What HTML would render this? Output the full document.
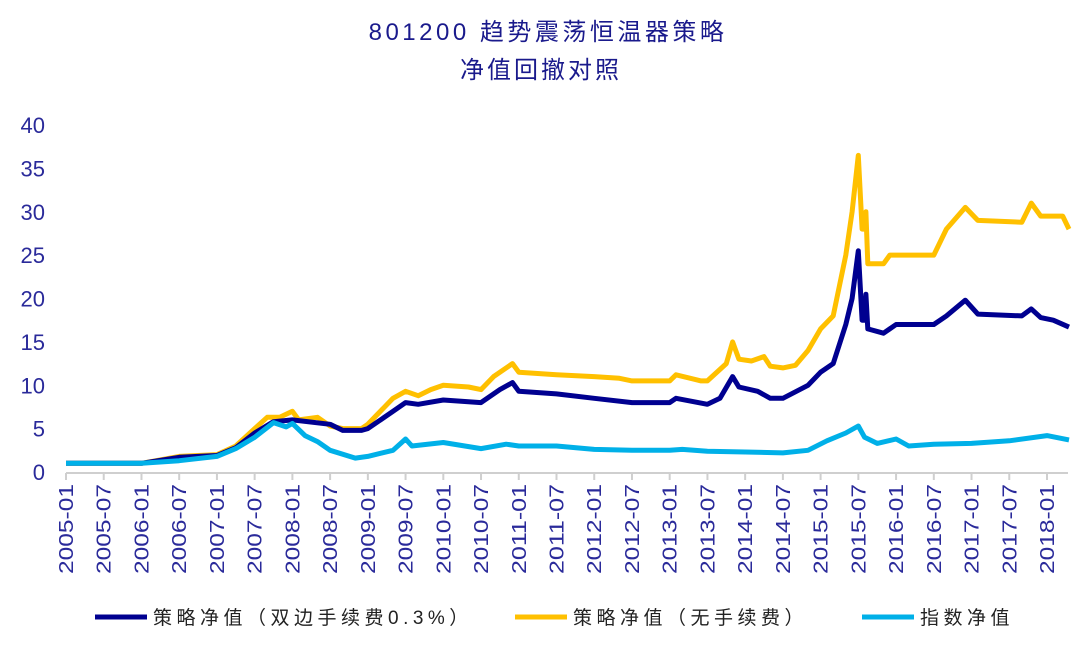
<!DOCTYPE html>
<html><head><meta charset="utf-8"><style>
body{margin:0;background:#fff;}
svg{display:block;font-family:"Liberation Sans","Noto Sans CJK SC",sans-serif;}
</style></head><body>
<svg width="1080" height="645" viewBox="0 0 1080 645">
<g id="root"></g>
</svg>
<script>
const tickLabels=["2005-01","2005-07","2006-01","2006-07","2007-01","2007-07","2008-01","2008-07","2009-01","2009-07","2010-01","2010-07","2011-01","2011-07","2012-01","2012-07","2013-01","2013-07","2014-01","2014-07","2015-01","2015-07","2016-01","2016-07","2017-01","2017-07","2018-01"];
const yTicks=[0,5,10,15,20,25,30,35,40];
const orangeMonths=[0,12,18,24,27,30,32,34,36,37,40,42,44,47,48,50,52,54,56,58,60,64,66,68,71,72,78,84,88,90,96,97,101,102,105,106,107,109,111,112,114,116,118,120,122,124,125,126,126.6,127,127.2,127.5,130,131,138,140,143,145,152,153.5,155,157,158.5,159.5];
const orangeValues=[1.0,1.0,1.8,2.0,3.0,5.0,6.3,6.3,7.0,6.0,6.3,5.3,5.0,5.0,5.5,7.0,8.5,9.3,8.8,9.5,10.0,9.8,9.5,11.0,12.5,11.5,11.2,11.0,10.8,10.5,10.5,11.2,10.5,10.5,12.5,15.0,13.0,12.8,13.3,12.2,12.0,12.3,14.0,16.5,18.0,25.0,30.0,36.5,28.0,28.0,30.0,24.0,24.0,25.0,25.0,28.0,30.5,29.0,28.8,31.0,29.5,29.5,29.5,28.0];
const navyMonths=[0,12,18,24,27,30,33,36,42,44,47,48,52,54,56,60,66,69,71,72,78,84,90,96,97,102,104,106,107,110,112,114,118,120,122,124,125,126,126.6,127,127.2,127.5,130,132,138,140,143,145,152,153.5,155,157,159.5];
const navyValues=[1.0,1.0,1.7,1.9,2.8,4.5,5.8,6.0,5.5,4.8,4.8,5.0,7.0,8.0,7.8,8.3,8.0,9.5,10.3,9.3,9.0,8.5,8.0,8.0,8.5,7.8,8.5,11.0,9.8,9.3,8.5,8.5,10.0,11.5,12.5,17.0,20.0,25.5,17.5,17.5,20.5,16.5,16.0,17.0,17.0,18.0,19.8,18.2,18.0,18.8,17.8,17.5,16.7];
const cyanMonths=[0,12,18,24,27,30,33,35,36,38,40,42,46,48,52,54,55,60,66,70,72,78,84,90,96,98,102,108,114,118,121,124,126,127,129,132,134,138,144,150,156,159.5];
const cyanValues=[1.0,1.0,1.3,1.8,2.7,4.0,5.7,5.2,5.6,4.2,3.5,2.5,1.6,1.8,2.5,3.8,3.0,3.4,2.7,3.2,3.0,3.0,2.6,2.5,2.5,2.6,2.4,2.3,2.2,2.5,3.6,4.5,5.3,4.0,3.3,3.8,3.0,3.2,3.3,3.6,4.2,3.7];

const NS="http://www.w3.org/2000/svg";
const root=document.getElementById('root');
const X=m=>66+m*(1047-66)/156;
const Y=v=>472-v*8.675;
function mk(t,a,txt){const e=document.createElementNS(NS,t);for(const k in a)e.setAttribute(k,a[k]);if(txt!==undefined)e.textContent=txt;root.appendChild(e);return e;}

let e=mk('text',{x:548,y:40,'text-anchor':'middle','font-size':24,'letter-spacing':3.5,fill:'#1a1a8c'},'801200 趋势震荡恒温器策略');


e=mk('text',{x:541,y:78,'text-anchor':'middle','font-size':24,'letter-spacing':3,fill:'#1a1a8c'},'净值回撤对照');



yTicks.forEach(v=>{
  const t=mk('text',{x:45,y:Y(v)+8,'text-anchor':'end','font-size':22,fill:'#2a2a9a'},String(v));
  
  
});
e=mk('line',{x1:66,y1:473,x2:1068,y2:473,stroke:'#cfcfcf','stroke-width':2});


tickLabels.forEach((l,i)=>{
  const x=X(i*6);
  const tk=mk('line',{x1:x,y1:473,x2:x,y2:480,stroke:'#cfcfcf','stroke-width':2});
  
  
  const t=mk('text',{x:0,y:0,'text-anchor':'end','font-size':20,textLength:90,lengthAdjust:'spacingAndGlyphs',fill:'#2a2a9a',transform:`translate(${x+7},484) rotate(-90)`},l);
  
  
});
function series(ms,vs,col,name){
  const d=ms.map((m,i)=>(i?'L':'M')+X(m).toFixed(1)+','+Y(vs[i]).toFixed(1)).join('');
  const p=mk('path',{d:d,fill:'none',stroke:col,'stroke-width':5,'stroke-linejoin':'round'});
  
  
}
series(orangeMonths,orangeValues,'#ffc000','series-no-fee');
series(navyMonths,navyValues,'#000090','series-with-fee');
series(cyanMonths,cyanValues,'#00b0e8','series-index');

[[95,'#000090','策略净值（双边手续费0.3%）'],[515,'#ffc000','策略净值（无手续费）'],[862,'#00b0e8','指数净值']].forEach(([x,c,t])=>{
  const l=mk('line',{x1:x,y1:617,x2:x+52,y2:617,stroke:c,'stroke-width':5});
  
  
  const tx=mk('text',{x:x+58,y:624,'font-size':19,fill:'#222','letter-spacing':'4.5'},t);
  
  
});
</script>
</body></html>
